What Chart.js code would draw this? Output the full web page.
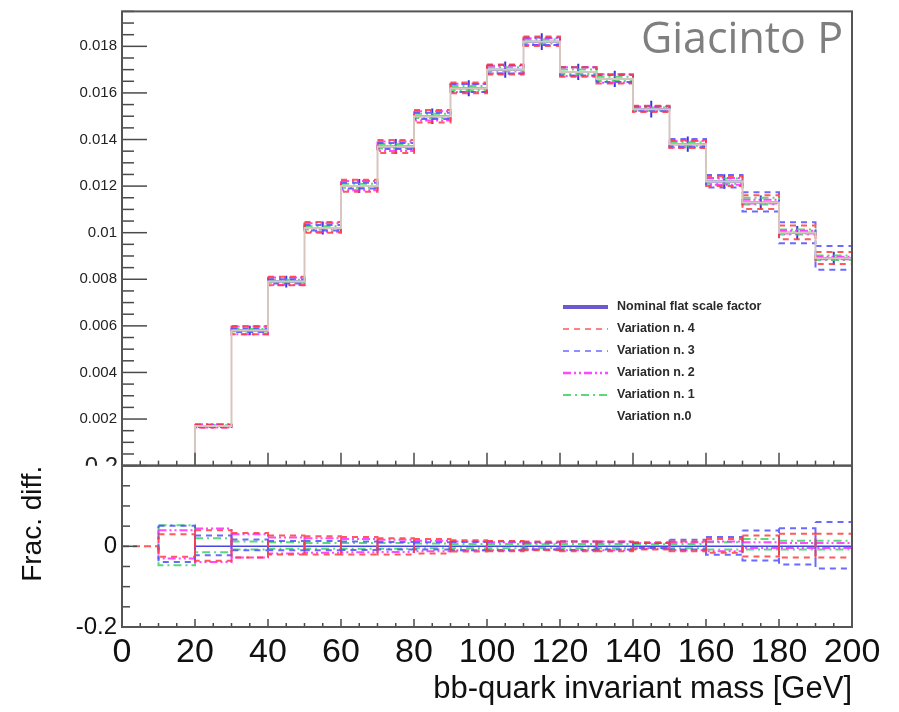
<!DOCTYPE html>
<html>
<head>
<meta charset="utf-8">
<title>bb-quark invariant mass</title>
<script src="https://cdn.jsdelivr.net/npm/chart.js@4.4.1/dist/chart.umd.min.js"></script>
<style>
  html, body { margin: 0; padding: 0; background: #fff; }
  #wrap { position: relative; width: 899px; height: 712px; }
</style>
</head>
<body>
<div id="wrap"><canvas id="massChart" width="899" height="712"></canvas></div>
<script>
Chart.defaults.font.family = '"Liberation Sans", Arial, Helvetica, sans-serif';
Chart.defaults.color = '#222';

// 10 GeV bins from 0 to 200
const binEdges = [0, 10, 20, 30, 40, 50, 60, 70, 80, 90, 100, 110, 120, 130, 140, 150, 160, 170, 180, 190, 200];
const nominal = [0, 0, 0.0017, 0.0058, 0.0079, 0.0102, 0.0120, 0.0137, 0.0150, 0.0162, 0.0170, 0.0182,
                 0.0169, 0.0166, 0.0153, 0.0138, 0.0122, 0.0113, 0.0100, 0.0089];
const statErr = [0, 0, 0.0001, 0.0002, 0.00025, 0.00028, 0.0003, 0.00032, 0.00033, 0.00034, 0.00035, 0.00036,
                 0.00035, 0.00035, 0.00036, 0.00033, 0.00031, 0.0003, 0.00029, 0.00028];

// fractional shifts of each variation, upper and lower edge per bin
const var4Up   = [0, 0.030, 0.040, 0.033, 0.027, 0.025, 0.023, 0.020, 0.018, 0.015, 0.013, 0.012, 0.012, 0.012, 0.010, 0.012, 0.018, 0.027, 0.031, 0.031];
const var4Down = [0, -0.026, -0.036, -0.028, -0.020, -0.020, -0.020, -0.020, -0.018, -0.013, -0.012, -0.010, -0.012, -0.012, -0.008, -0.012, -0.016, -0.025, -0.028, -0.028];
const var3Up   = [null, 0.051, 0.027, 0.017, 0.013, 0.013, 0.012, 0.011, 0.010, 0.011, 0.012, 0.010, 0.012, 0.010, 0.008, 0.016, 0.023, 0.039, 0.045, 0.060];
const var3Down = [null, -0.039, -0.022, -0.010, -0.010, -0.010, -0.009, -0.008, -0.008, -0.010, -0.010, -0.008, -0.009, -0.008, -0.004, -0.008, -0.021, -0.035, -0.045, -0.055];
const var2Up   = [null, 0.040, 0.044, 0.030, 0.022, 0.020, 0.018, 0.016, 0.014, 0.012, 0.010, 0.008, 0.012, 0.012, 0.008, 0.010, 0.012, 0.010, 0.008, 0.008];
const var2Down = [null, -0.030, -0.039, -0.028, -0.018, -0.016, -0.015, -0.014, -0.012, -0.010, -0.010, -0.008, -0.010, -0.010, -0.006, -0.010, -0.012, -0.004, -0.004, -0.004];
const var1Up   = [null, 0.052, 0.020, 0.012, 0.010, 0.008, 0.008, 0.008, 0.007, 0.006, 0.006, 0.005, 0.006, 0.006, 0.005, 0.006, 0.010, 0.018, 0.014, 0.014];
const var1Down = [null, -0.047, -0.015, -0.008, -0.006, -0.006, -0.006, -0.006, -0.005, -0.005, -0.005, -0.004, -0.005, -0.005, -0.004, -0.005, -0.008, -0.008, -0.008, -0.008];

const legendLabels = ['Nominal flat scale factor', 'Variation n. 4', 'Variation n. 3', 'Variation n. 2', 'Variation n. 1', 'Variation n.0'];
const xTitle = 'bb-quark invariant mass [GeV]';
const ratioTitle = 'Frac. diff.';

// ---- point lists built from the bins ----
function boxPath(i, top, bottom, pts) {
    const lo = binEdges[i], hi = binEdges[i + 1];
    pts.push({x: lo, y: top}, {x: hi, y: top}, {x: hi, y: bottom}, {x: lo, y: bottom}, {x: lo, y: top}, {x: lo, y: null});
}

function upperBoxes(up, down) {
    const pts = [];
    nominal.forEach((v, i) => {
        if (v <= 0 || up[i] === null) return;
        boxPath(i, v * (1 + up[i]), v * (1 + down[i]), pts);
    });
    return pts;
}

function lowerBoxes(up, down) {
    const pts = [];
    up.forEach((u, i) => {
        if (u === null) return;
        boxPath(i, u, down[i], pts);
    });
    return pts;
}

function stepOutline() {
    const pts = nominal.map((v, i) => ({x: binEdges[i], y: v}));
    pts.push({x: binEdges[nominal.length], y: nominal[nominal.length - 1]});
    return pts;
}

function nominalBars() {
    const pts = [];
    nominal.forEach((v, i) => {
        if (v <= 0) return;
        pts.push({x: binEdges[i], y: v}, {x: binEdges[i + 1], y: v}, {x: binEdges[i + 1], y: null});
    });
    return pts;
}

function errorBars() {
    const pts = [];
    nominal.forEach((v, i) => {
        if (v <= 0) return;
        const c = (binEdges[i] + binEdges[i + 1]) / 2;
        pts.push({x: c, y: v - statErr[i]}, {x: c, y: v + statErr[i]}, {x: c, y: null});
    });
    return pts;
}

function nominalRatio() {
    const pts = [];
    nominal.forEach((v, i) => {
        if (v <= 0) return;
        pts.push({x: binEdges[i], y: v / v - 1}, {x: binEdges[i + 1], y: v / v - 1});
    });
    return pts;
}

const variations = [
    {label: legendLabels[1], up: var4Up, down: var4Down, color: 'rgba(255,60,60,0.85)', dash: [6, 5]},
    {label: legendLabels[2], up: var3Up, down: var3Down, color: 'rgba(80,80,255,0.85)', dash: [6, 5]},
    {label: legendLabels[3], up: var2Up, down: var2Down, color: 'rgba(255,40,255,0.85)', dash: [8, 3, 2, 3, 2, 3]},
    {label: legendLabels[4], up: var1Up, down: var1Down, color: 'rgba(60,210,100,0.85)', dash: [8, 4, 2, 4]}
];

const lineBase = {pointRadius: 0, pointHitRadius: 0, fill: false, tension: 0, spanGaps: false};

const datasets = [];
datasets.push({...lineBase, label: legendLabels[5], data: stepOutline(), stepped: 'before',
    borderColor: '#d6c6be', borderWidth: 2, yAxisID: 'y'});
variations.forEach(vr => {
    datasets.push({...lineBase, label: vr.label, data: upperBoxes(vr.up, vr.down),
        borderColor: vr.color, borderDash: vr.dash, borderWidth: 2, yAxisID: 'y'});
});
datasets.push({...lineBase, label: legendLabels[0], data: nominalBars(),
    borderColor: '#3a35d8', borderWidth: 2, yAxisID: 'y'});
datasets.push({...lineBase, label: 'stat', data: errorBars(),
    borderColor: '#3a35d8', borderWidth: 2, yAxisID: 'y'});
variations.forEach(vr => {
    datasets.push({...lineBase, label: vr.label + ' ratio', data: lowerBoxes(vr.up, vr.down),
        borderColor: vr.color, borderDash: vr.dash, borderWidth: 2, yAxisID: 'y2'});
});
datasets.push({...lineBase, label: 'nominal ratio', data: nominalRatio(),
    borderColor: '#4a45e0', borderWidth: 1.5, yAxisID: 'y2'});

// ROOT-style frames, inward ticks, legend and the overlay caption
const rootFrame = {
    id: 'rootFrame',
    afterDraw(chart) {
        const ctx = chart.ctx;
        const xs = chart.scales.x, ys = chart.scales.y, y2 = chart.scales.y2;
        const L = xs.left, R = xs.right;
        const seg = (a, b, c, d) => { ctx.beginPath(); ctx.moveTo(a, b); ctx.lineTo(c, d); ctx.stroke(); };
        ctx.save();

        ctx.strokeStyle = '#4a4a4a';
        ctx.lineWidth = 1.5;
        for (let k = 0; k * 0.0005 <= ys.max + 1e-9; k++) {
            const p = ys.getPixelForValue(k * 0.0005);
            seg(L, p, L + (k % 4 === 0 ? 25 : 12), p);
        }
        for (let k = -4; k <= 4; k++) {
            const p = y2.getPixelForValue(k * 0.05);
            seg(L, p, L + (k % 4 === 0 ? 15 : 8), p);
        }
        for (let v = 0; v <= 200; v += 5) {
            const p = xs.getPixelForValue(v);
            const major = v % 20 === 0;
            seg(p, ys.bottom, p, ys.bottom - (major ? 13 : 5));
            seg(p, y2.bottom, p, y2.bottom - (major ? 8 : 4));
        }

        ctx.strokeStyle = '#555';
        ctx.lineWidth = 2;
        ctx.strokeRect(L, ys.top, R - L, ys.bottom - ys.top);
        ctx.strokeRect(L, y2.top, R - L, y2.bottom - y2.top);

        // top label of the ratio pad, cut by the upper pad edge
        ctx.save();
        ctx.beginPath();
        ctx.rect(0, 0, L, ys.bottom);
        ctx.clip();
        ctx.fillStyle = '#222';
        ctx.font = '24px "Liberation Sans", Arial, sans-serif';
        ctx.textAlign = 'right';
        ctx.textBaseline = 'middle';
        ctx.fillText('0.2', L - 4, y2.getPixelForValue(0.2) + 2);
        ctx.restore();

        // legend
        const styles = [
            {color: '#6a5acd', dash: [], width: 4},
            {color: variations[0].color, dash: variations[0].dash, width: 1.5},
            {color: variations[1].color, dash: variations[1].dash, width: 1.5},
            {color: variations[2].color, dash: variations[2].dash, width: 2.5},
            {color: variations[3].color, dash: variations[3].dash, width: 2},
            {color: '#ffffff', dash: [], width: 1}
        ];
        ctx.font = 'bold 12.5px "Liberation Sans", Arial, sans-serif';
        ctx.textAlign = 'left';
        ctx.textBaseline = 'middle';
        legendLabels.forEach((lab, i) => {
            const yy = 307 + i * 22;
            const st = styles[i];
            ctx.strokeStyle = st.color;
            ctx.lineWidth = st.width;
            ctx.setLineDash(st.dash);
            seg(563, yy, 608, yy);
            ctx.setLineDash([]);
            ctx.fillStyle = '#2a2a2a';
            ctx.fillText(lab, 617, yy);
        });

        ctx.fillStyle = '#7f7f7f';
        ctx.font = '43px "Open Sans", "Noto Sans", sans-serif';
        ctx.textAlign = 'right';
        ctx.textBaseline = 'alphabetic';
        ctx.fillText('Giacinto P', 843, 53);
        ctx.restore();
    }
};

new Chart(document.getElementById('massChart'), {
    type: 'line',
    data: {datasets},
    options: {
        responsive: false,
        animation: false,
        events: [],
        layout: {padding: {top: 0, right: 47, left: 0, bottom: 0}},
        plugins: {legend: {display: false}, tooltip: {enabled: false}},
        scales: {
            x: {
                type: 'linear', min: 0, max: 200,
                grid: {display: false}, border: {display: false},
                ticks: {stepSize: 20, autoSkip: false, maxRotation: 0, includeBounds: false,
                    font: {size: 34}, color: '#111', padding: -3},
                title: {display: true, text: xTitle, align: 'end', font: {size: 31}, color: '#111', padding: {top: 0}},
                afterFit: s => { s.height = 85; }
            },
            // ratio pad is listed first so the stack puts it below the main pad
            y2: {
                type: 'linear', position: 'left', stack: 'pads', stackWeight: 162,
                min: -0.2, max: 0.2,
                grid: {display: false}, border: {display: false},
                ticks: {stepSize: 0.2, autoSkip: false, includeBounds: false, padding: -3,
                    font: {size: 24}, color: '#111',
                    callback: v => v > 0.1 ? '' : (Math.abs(v) < 1e-9 ? '0' : v.toFixed(1))},
                title: {display: true, text: ratioTitle, align: 'end', font: {size: 28}, color: '#111', padding: {top: 16}},
                afterFit: s => { s.width = 122; }
            },
            y: {
                type: 'linear', position: 'left', stack: 'pads', stackWeight: 456,
                min: 0, max: 0.0195,
                grid: {display: false}, border: {display: false},
                ticks: {stepSize: 0.002, autoSkip: false, includeBounds: false, padding: -3,
                    font: {size: 15}, color: '#222',
                    callback: v => Math.abs(v) < 1e-9 ? '' : String(+v.toFixed(3))},
                afterFit: s => { s.width = 122; }
            }
        }
    },
    plugins: [rootFrame]
});
</script>
</body>
</html>
